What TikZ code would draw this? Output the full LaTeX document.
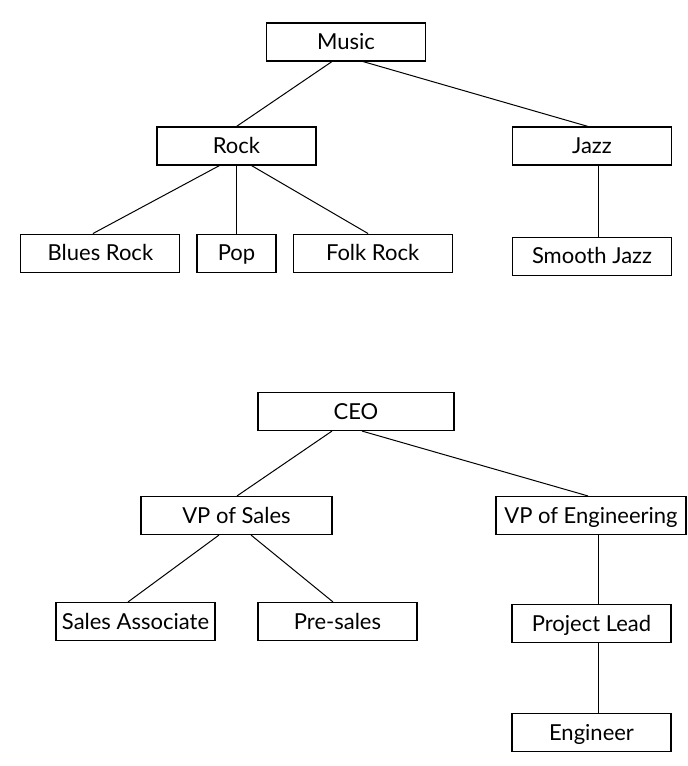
\documentclass[tikz,border=0pt]{standalone}
\usepackage{fontspec}
\setmainfont{Lato}
\usetikzlibrary{positioning}

\begin{document}
\begin{tikzpicture}[
		x=1pt, y=-1pt,
		line width=1pt,
		box/.style={draw, line width=1.1pt, minimum height=38pt, minimum width=159pt, inner sep=0pt, text height=15.5pt, text depth=0pt, font=\fontsize{22}{26}\selectfont},
		small/.style={box, minimum width=79pt},
		edge/.style={line width=1pt},
	]
		\useasboundingbox (0,0) rectangle (688,766);
		% music tree
		\node (music) [box] at (346,42) {Music};
		\node (rock) [box] at (236.5,146) {Rock};
		\node (jazz) [box] at (592,146) {Jazz};
		\node (pop) [small, below=68pt of rock] {Pop};
		\node (blues) [box, left=16pt of pop] {Blues Rock};
		\node (folk) [box, right=16pt of pop] {Folk Rock};
		\node (smooth) [box, below=71pt of jazz] {Smooth Jazz};

		\draw[edge] ([xshift=-14pt]music.south) -- (rock.north);
		\draw[edge] ([xshift=17pt]music.south) -- ([xshift=-4pt]jazz.north);
		\draw[edge] ([xshift=-17pt]rock.south) -- ([xshift=-7.5pt]blues.north);
		\draw[edge] (rock.south) -- (pop.north);
		\draw[edge] ([xshift=15pt]rock.south) -- ([xshift=-4.5pt]folk.north);
		\draw[edge] ([xshift=6pt]jazz.south) -- ([xshift=6pt]smooth.north);

		% company tree
		\node (ceo) [box, minimum width=196pt] at (356,411.5) {CEO};
		\node (vps) [box, minimum width=191pt] at (236.5,515.5) {VP of Sales};
		\node (vpe) [box, minimum width=190pt] at (591,515.5) {VP of Engineering};
		\node (assoc) [box] at (135.5,621.5) {Sales Associate};
		\node (presales) [box] at (337.5,621.5) {Pre-sales};
		\node (lead) [box, below=69pt of vpe, xshift=0.5pt] {Project Lead};
		\node (eng) [box, below=70pt of lead] {Engineer};

		\draw[edge] ([xshift=-24pt]ceo.south) -- ([xshift=0.5pt]vps.north);
		\draw[edge] ([xshift=6pt]ceo.south) -- ([xshift=-3pt]vpe.north);
		\draw[edge] ([xshift=-17.5pt]vps.south) -- ([xshift=-7.5pt]assoc.north);
		\draw[edge] ([xshift=14.5pt]vps.south) -- ([xshift=-4.5pt]presales.north);
		\draw[edge] ([xshift=7pt]vpe.south) -- ([xshift=6.5pt]lead.north);
		\draw[edge] ([xshift=6.5pt]lead.south) -- ([xshift=6.5pt]eng.north);
	\end{tikzpicture}
\end{document}
